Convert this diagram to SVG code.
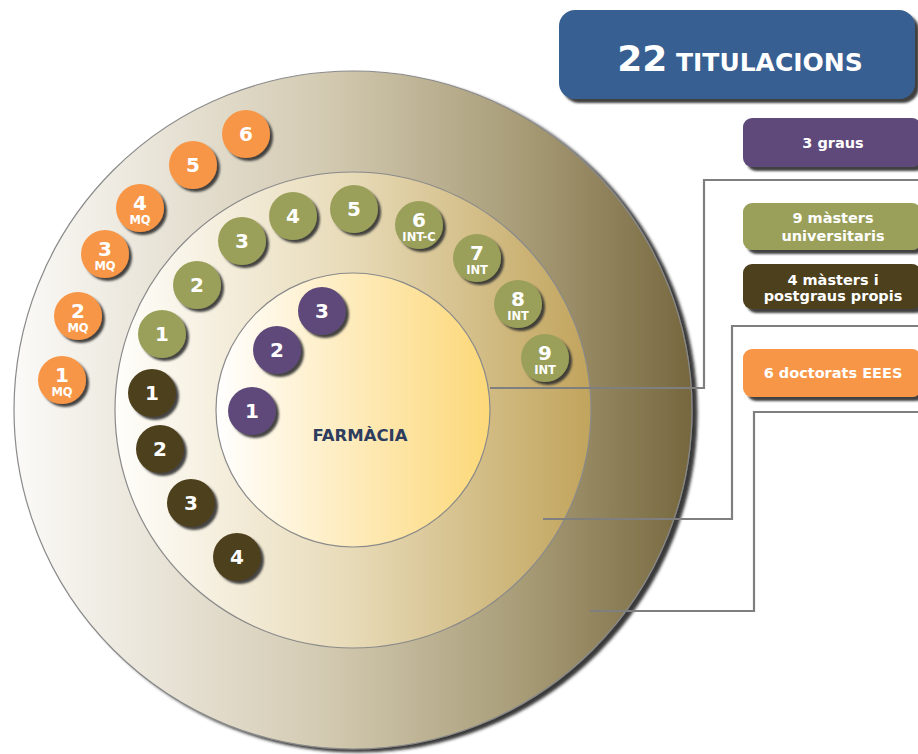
<svg xmlns="http://www.w3.org/2000/svg" width="918" height="754" viewBox="0 0 918 754">
<defs>
<linearGradient id="gOuter" x1="14" y1="0" x2="692" y2="0" gradientUnits="userSpaceOnUse">
<stop offset="0" stop-color="#fbfaf8"/>
<stop offset="0.45" stop-color="#d4cbb3"/>
<stop offset="0.75" stop-color="#a89c77"/>
<stop offset="1" stop-color="#76673e"/>
</linearGradient>
<linearGradient id="gMiddle" x1="115" y1="0" x2="591" y2="0" gradientUnits="userSpaceOnUse">
<stop offset="0" stop-color="#fffefb"/>
<stop offset="0.5" stop-color="#e7dab7"/>
<stop offset="1" stop-color="#c1a45c"/>
</linearGradient>
<linearGradient id="gInner" x1="216" y1="0" x2="490" y2="0" gradientUnits="userSpaceOnUse">
<stop offset="0" stop-color="#ffffff"/>
<stop offset="0.5" stop-color="#feebbb"/>
<stop offset="1" stop-color="#fcd878"/>
</linearGradient>
<filter id="sh" x="-30%" y="-30%" width="170%" height="170%">
<feDropShadow dx="3" dy="3" stdDeviation="0.8" flood-color="#333" flood-opacity="0.9"/>
</filter>
<filter id="shBox" x="-10%" y="-20%" width="130%" height="150%">
<feDropShadow dx="4" dy="4" stdDeviation="1" flood-color="#222" flood-opacity="0.85"/>
</filter>
<filter id="shBig" x="-10%" y="-10%" width="120%" height="120%">
<feDropShadow dx="5" dy="3" stdDeviation="1.5" flood-color="#222" flood-opacity="0.9"/>
</filter>
</defs>
<style>
.ring{stroke:#8a8a8a;stroke-width:1.2}
.dot{filter:url(#sh)}
.or{fill:#f79646}.gr{fill:#9aa05a}.br{fill:#4e3f1b}.pu{fill:#5f4a7a}
.n{font-family:"DejaVu Sans",Verdana,sans-serif;font-weight:bold;font-size:20px;fill:#fff;text-anchor:middle}
.s{font-family:"DejaVu Sans",Verdana,sans-serif;font-weight:bold;font-size:11.5px;fill:#fff;text-anchor:middle}
.bt{font-family:"DejaVu Sans",Verdana,sans-serif;font-weight:bold;font-size:14.5px;fill:#fff;text-anchor:middle}
.con{fill:none;stroke:#7f7f7f;stroke-width:2.2}
</style>
<rect width="918" height="754" fill="#ffffff"/>
<g id="outer-ring">
<circle cx="353" cy="410" r="339" fill="url(#gOuter)" class="ring" filter="url(#shBig)"/>
</g>
<g id="middle-ring">
<circle cx="353" cy="410" r="238" fill="url(#gMiddle)" class="ring"/>
</g>
<g id="inner-ring">
<circle cx="353" cy="410" r="137" fill="url(#gInner)" class="ring"/>
<text x="360" y="441" font-family="'DejaVu Sans',Verdana,sans-serif" font-weight="bold" font-size="16.5" fill="#2e3c5e" text-anchor="middle">FARMÀCIA</text>
</g>
<g id="connectors">
<path class="con" d="M490,388 H704 V180 H918"/>
<path class="con" d="M543,519 H732 V326 H918"/>
<path class="con" d="M590,611 H754 V412 H918"/>
</g>
<g id="doc-6"><circle class="dot or" cx="246" cy="134" r="24"/><text class="n" x="246" y="141">6</text></g>
<g id="doc-5"><circle class="dot or" cx="193" cy="165" r="24"/><text class="n" x="193" y="172">5</text></g>
<g id="doc-4"><circle class="dot or" cx="140" cy="208" r="24"/><text class="n" x="140" y="210">4</text><text class="s" x="140" y="224">MQ</text></g>
<g id="doc-3"><circle class="dot or" cx="105" cy="254" r="24"/><text class="n" x="105" y="256">3</text><text class="s" x="105" y="270">MQ</text></g>
<g id="doc-2"><circle class="dot or" cx="78" cy="316" r="24"/><text class="n" x="78" y="318">2</text><text class="s" x="78" y="332">MQ</text></g>
<g id="doc-1"><circle class="dot or" cx="62" cy="380" r="24"/><text class="n" x="62" y="382">1</text><text class="s" x="62" y="396">MQ</text></g>
<g id="mu-1"><circle class="dot gr" cx="162" cy="334" r="24"/><text class="n" x="162" y="341">1</text></g>
<g id="mu-2"><circle class="dot gr" cx="197" cy="285" r="24"/><text class="n" x="197" y="292">2</text></g>
<g id="mu-3"><circle class="dot gr" cx="242" cy="241" r="24"/><text class="n" x="242" y="248">3</text></g>
<g id="mu-4"><circle class="dot gr" cx="293" cy="216" r="24"/><text class="n" x="293" y="223">4</text></g>
<g id="mu-5"><circle class="dot gr" cx="354" cy="209" r="24"/><text class="n" x="354" y="216">5</text></g>
<g id="mu-6"><circle class="dot gr" cx="419" cy="225" r="24"/><text class="n" x="419" y="227">6</text><text class="s" x="419" y="241">INT-C</text></g>
<g id="mu-7"><circle class="dot gr" cx="477" cy="258" r="24"/><text class="n" x="477" y="260">7</text><text class="s" x="477" y="274">INT</text></g>
<g id="mu-8"><circle class="dot gr" cx="518" cy="304" r="24"/><text class="n" x="518" y="306">8</text><text class="s" x="518" y="320">INT</text></g>
<g id="mu-9"><circle class="dot gr" cx="545" cy="358" r="24"/><text class="n" x="545" y="360">9</text><text class="s" x="545" y="374">INT</text></g>
<g id="mp-1"><circle class="dot br" cx="152" cy="393" r="24"/><text class="n" x="152" y="400">1</text></g>
<g id="mp-2"><circle class="dot br" cx="160" cy="449" r="24"/><text class="n" x="160" y="456">2</text></g>
<g id="mp-3"><circle class="dot br" cx="191" cy="503" r="24"/><text class="n" x="191" y="510">3</text></g>
<g id="mp-4"><circle class="dot br" cx="237" cy="557" r="24"/><text class="n" x="237" y="564">4</text></g>
<g id="gr-1"><circle class="dot pu" cx="252" cy="411" r="24"/><text class="n" x="252" y="418">1</text></g>
<g id="gr-2"><circle class="dot pu" cx="277" cy="350" r="24"/><text class="n" x="277" y="357">2</text></g>
<g id="gr-3"><circle class="dot pu" cx="322" cy="311" r="24"/><text class="n" x="322" y="318">3</text></g>
<g id="title">
<rect x="559" y="10" width="356" height="89" rx="16" fill="#375f91" filter="url(#shBox)"/>
<text x="740" y="71" font-family="'DejaVu Sans',Verdana,sans-serif" font-weight="bold" fill="#fff" text-anchor="middle"><tspan font-size="36">22</tspan><tspan font-size="25"> TITULACIONS</tspan></text>
</g>
<g id="box-graus">
<rect x="743" y="118" width="178" height="49" rx="9" fill="#5f4a7a" filter="url(#shBox)"/>
<text class="bt" x="833" y="148">3 graus</text>
</g>
<g id="box-masters">
<rect x="743" y="203" width="178" height="47" rx="9" fill="#9aa05a" filter="url(#shBox)"/>
<text class="bt" x="833" y="223">9 màsters</text>
<text class="bt" x="833" y="241">universitaris</text>
</g>
<g id="box-postgraus">
<rect x="743" y="264" width="178" height="45" rx="9" fill="#4e3f1b" filter="url(#shBox)"/>
<text class="bt" x="833" y="285">4 màsters i</text>
<text class="bt" x="833" y="301">postgraus propis</text>
</g>
<g id="box-doctorats">
<rect x="743" y="349" width="178" height="48" rx="9" fill="#f79646" filter="url(#shBox)"/>
<text class="bt" x="833" y="378">6 doctorats EEES</text>
</g>
</svg>
